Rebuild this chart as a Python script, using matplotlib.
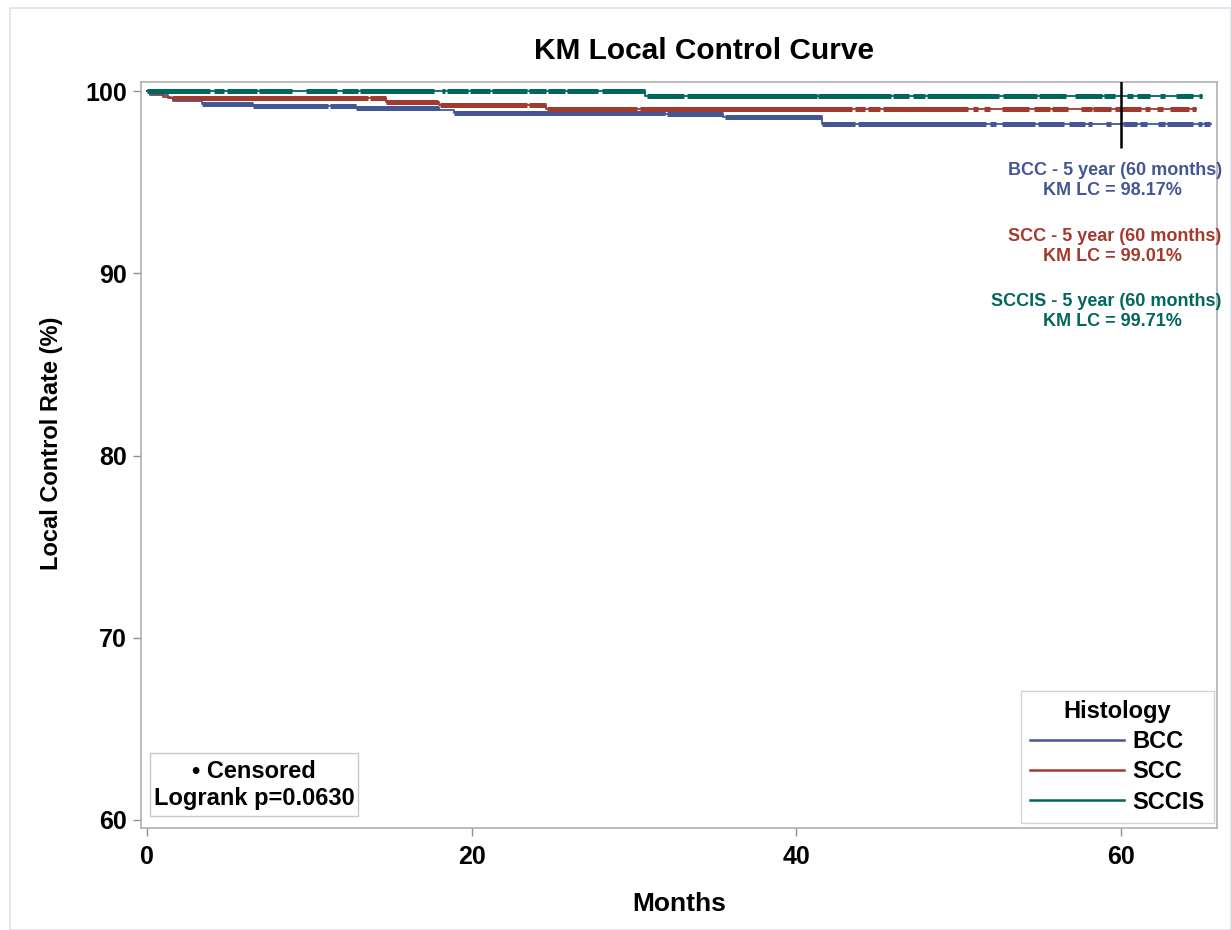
"""
KM local control curve by histology (BCC / SCC / SCCIS), SAS-style look.
"""
import matplotlib.pyplot as plt
from matplotlib.lines import Line2D
from matplotlib.patches import Rectangle
import numpy as np

plt.rcParams["font.family"] = ["Liberation Sans", "DejaVu Sans"]
plt.rcParams["font.weight"] = "bold"

GROUPS = ["BCC", "SCC", "SCCIS"]
COLORS = {"BCC": "#445694", "SCC": "#A23A2E", "SCCIS": "#01665E"}

# step functions: event times (months) and LC (%)
BCC_T = [0, 0.2, 1.3, 1.6, 3.4, 6.5, 12.9, 18.0, 18.9, 31.9, 35.5, 41.6]
BCC_S = [100, 99.8, 99.6, 99.45, 99.3, 99.2, 99.07, 98.95, 98.8, 98.75, 98.57, 98.17]
BCC_END = 65.5
SCC_T = [0, 0.3, 1.0, 1.5, 14.7, 18.0, 24.6]
SCC_S = [100, 99.82, 99.7, 99.6, 99.4, 99.25, 99.01]
SCC_END = 64.6
SCCIS_T = [0, 30.7]
SCCIS_S = [100, 99.71]
SCCIS_END = 65.0

# runs of dense censoring marks (start, end) in months
BCC_CENS = [(3.4, 11.15), (11.27, 18.0), (18.9, 31.9), (32.0, 35.45), (35.6, 43.6),
            (43.8, 51.7), (51.9, 52.3), (52.65, 54.7), (54.85, 56.5), (56.8, 57.75),
            (57.95, 58.2), (59.05, 59.35), (60.1, 61.0), (61.15, 61.6), (62.25, 62.7),
            (62.85, 64.4), (64.7, 65.0), (65.1, 65.45)]
SCC_CENS = [(1.55, 13.6), (13.75, 17.9), (18.05, 23.4), (23.5, 24.6), (24.65, 30.2),
            (30.35, 43.4), (43.6, 44.2), (44.4, 45.15), (45.3, 50.55), (50.9, 51.15),
            (51.55, 51.95), (52.65, 54.35), (54.6, 55.6), (55.75, 56.7), (57.5, 58.2),
            (58.25, 59.4), (59.6, 61.25), (61.45, 61.75), (62.2, 62.55), (63.0, 64.2),
            (64.35, 64.6)]
SCCIS_CENS = [(0.0, 3.9), (4.13, 4.74), (4.93, 6.77), (6.9, 8.93), (9.79, 11.7),
              (12.0, 13.0), (13.1, 17.65), (18.15, 18.35), (18.5, 19.75), (19.9, 21.1),
              (21.25, 23.4), (23.5, 24.6), (24.7, 25.75), (25.85, 27.75), (28.0, 30.65),
              (30.8, 33.1), (33.25, 41.25), (41.35, 45.85), (45.95, 46.95), (47.15, 47.9),
              (48.05, 52.5), (52.7, 54.8), (54.95, 56.6), (57.15, 58.8), (58.95, 59.6),
              (60.35, 60.7), (61.0, 61.75), (62.4, 62.7), (63.4, 64.4), (64.8, 65.0)]

LC_60 = {"BCC": 98.17, "SCC": 99.01, "SCCIS": 99.71}
LOGRANK_P = 0.0630

DATA = {
    "BCC": (BCC_T, BCC_S, BCC_END, BCC_CENS),
    "SCC": (SCC_T, SCC_S, SCC_END, SCC_CENS),
    "SCCIS": (SCCIS_T, SCCIS_S, SCCIS_END, SCCIS_CENS),
}


def draw_censored(ax, t, s, spans, color):
    # split each run at event times so every piece sits on its own level
    t = np.asarray(t, float)
    for a, b in spans:
        cuts = [a] + [x for x in t if a < x < b] + [b]
        for lo, hi in zip(cuts[:-1], cuts[1:]):
            lvl = s[np.searchsorted(t, lo, side="right") - 1]
            ax.hlines(lvl, lo, hi, colors=color, linewidth=3.6, zorder=3)


def main():
    fig = plt.figure(figsize=(12.31, 9.30), dpi=100)
    fig.patches.append(Rectangle((10 / 1231, 0), 1 - 10 / 1231, 1 - 8 / 930,
                                 transform=fig.transFigure, fill=False,
                                 edgecolor="#E2E2EE", linewidth=1.2))
    ax = fig.add_axes([141 / 1231, 1 - 828 / 930, (1217 - 141) / 1231, (828 - 82) / 930])

    for g in GROUPS:
        t, s, end, cens = DATA[g]
        ax.step(list(t) + [end], list(s) + [s[-1]], where="post",
                color=COLORS[g], linewidth=1.3, zorder=2)
        draw_censored(ax, t, s, cens, COLORS[g])

    # 60-month reference
    ax.vlines(60, 96.9, 100.6, colors="black", linewidth=1.8, zorder=4)

    # first line right-aligned, second centred beneath it
    ann_y = [(95.67, 94.57), (92.0, 90.9), (88.43, 87.33)]
    for g, (y1, y2) in zip(GROUPS, ann_y):
        ax.text(66.19, y1, f"{g} - 5 year (60 months)", ha="right", va="center",
                fontsize=13, color=COLORS[g], clip_on=False)
        ax.text(59.48, y2, f"KM LC = {LC_60[g]:.2f}%", ha="center", va="center",
                fontsize=13, color=COLORS[g])

    ax.set_xlim(-0.37, 65.9)
    ax.set_ylim(59.56, 100.5)
    ax.set_xticks([0, 20, 40, 60])
    ax.set_yticks([60, 70, 80, 90, 100])
    ax.tick_params(labelsize=18, length=6, width=1, color="#909090", pad=4)
    ax.tick_params(axis="x", pad=6)
    for lab in ax.get_xticklabels() + ax.get_yticklabels():
        lab.set_fontweight("bold")
    for sp in ax.spines.values():
        sp.set_color("#B0B0B0")
        sp.set_linewidth(1.2)

    ax.set_xlabel("Months", fontsize=19, fontweight="bold", labelpad=17)
    ax.set_ylabel("Local Control Rate (%)", fontsize=17, fontweight="bold")
    ax.yaxis.set_label_coords(-0.0725, 0.516)
    ax.set_title("KM Local Control Curve", fontsize=21.5, fontweight="bold",
                 pad=16.5, x=0.523)

    handles = [Line2D([0], [0], color=COLORS[g], linewidth=1.8) for g in GROUPS]
    leg = ax.legend(handles, GROUPS, title="Histology", loc="lower right",
                    bbox_to_anchor=(0.9972, 0.0067), borderaxespad=0,
                    fontsize=17, title_fontsize=17,
                    handlelength=4.0, handletextpad=0.34, labelspacing=0.3,
                    fancybox=False, edgecolor="#C8C8C8", borderpad=0.4,
                    alignment="center")
    leg.get_frame().set_linewidth(1.0)
    leg.get_title().set_fontweight("bold")
    for txt in leg.get_texts():
        txt.set_fontweight("bold")

    # censored / logrank box
    ax.add_patch(Rectangle((0.00836, 0.0161), 0.1933, 0.0845, transform=ax.transAxes,
                           facecolor="white", edgecolor="#C8C8C8", linewidth=1.0,
                           zorder=5))
    ax.text(0.105, 0.0764, "\u2022 Censored", transform=ax.transAxes, ha="center",
            va="center", fontsize=17, fontweight="bold", zorder=6)
    ax.text(0.105, 0.0402, "Logrank p=%.4f" % LOGRANK_P, transform=ax.transAxes,
            ha="center", va="center", fontsize=17, fontweight="bold", zorder=6)

    fig.savefig("out.png", dpi=100)


if __name__ == "__main__":
    main()
